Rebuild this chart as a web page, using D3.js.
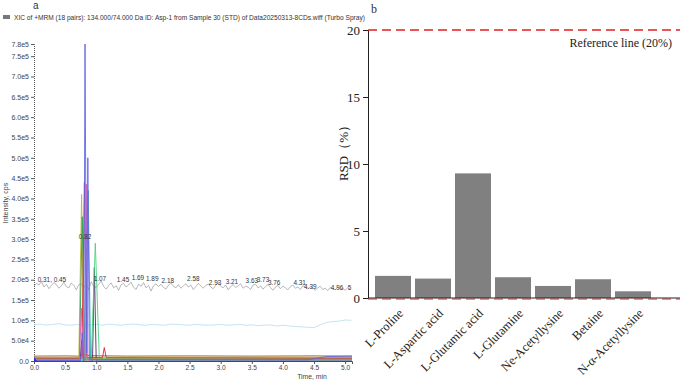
<!DOCTYPE html>
<html>
<head>
<meta charset="utf-8">
<script src="https://cdn.jsdelivr.net/npm/d3@7/dist/d3.min.js"></script>
<style>
  body { margin: 0; background: #fff; }
  svg { display: block; }
  .ax text { font-family: "Liberation Sans", Arial, sans-serif; font-size: 7px; fill: #444; }
  .rx text { font-family: "Liberation Serif", "Times New Roman", serif; font-size: 13px; fill: #222; }
</style>
</head>
<body>
<svg id="chart" width="682" height="380"></svg>
<script>
// ---- panel a: chromatogram (time in min, intensity in cps) ----
const titleText = 'XIC of +MRM (18 pairs): 134.000/74.000 Da ID: Asp-1 from Sample 30 (STD) of Data20250313-8CDs.wiff (Turbo Spray)';
const yTicksA = [0, 5e4, 1e5, 1.5e5, 2e5, 2.5e5, 3e5, 3.5e5, 4e5, 4.5e5, 5e5, 5.5e5, 6e5, 6.5e5, 7e5, 7.5e5, 7.8e5];
const xTicksA = [0, 0.5, 1, 1.5, 2, 2.5, 3, 3.5, 4, 4.5, 5];

// gray noisy trace, one value every 0.04 min, in 1e4 cps
const grayStep = 0.04;
const grayTrace = [
  18.4, 19.1, 18.7, 19.6, 18.2, 18.9, 17.8, 18.6, 19.3, 18.8,
  17.9, 18.5, 19.4, 18.3, 18.0, 19.2, 18.6, 17.5, 18.8, 19.0,
  18.2, 18.7, 17.6, 19.5, 18.4, 18.1, 18.9, 19.7, 18.3, 17.7,
  18.6, 19.2, 18.0, 18.5, 17.4, 18.8, 19.1, 18.2, 18.7, 19.4,
  18.1, 17.6, 18.9, 18.4, 19.3, 18.0, 18.6, 17.2, 18.5, 19.0,
  18.3, 18.9, 18.1, 17.7, 18.6, 19.2, 18.4, 18.0, 18.8, 17.9,
  18.5, 19.0, 18.2, 18.7, 17.6, 18.3, 19.1, 18.5, 17.9, 18.6,
  18.9, 18.2, 17.8, 18.6, 19.3, 18.4, 18.0, 18.7, 17.5, 18.3,
  18.8, 18.1, 18.5, 19.0, 17.9, 18.4, 18.2, 17.6, 18.7, 18.9,
  18.0, 18.5, 17.7, 18.3, 18.8, 18.1, 17.4, 18.2, 18.6, 17.8,
  18.4, 18.0, 17.5, 18.3, 18.7, 17.9, 18.2, 17.6, 18.5, 18.1,
  17.7, 18.3, 17.9, 17.4, 18.0, 18.4, 17.6, 17.9, 17.3, 18.1,
  17.8, 17.5, 18.2, 17.6, 17.9, 17.4, 18.0, 17.7
];
// light blue trace, one value every 0.1 min, in 1e4 cps
const lightBlueStep = 0.1;
const lightBlueTrace = [
  8.9, 9.1, 8.8, 9.0, 9.2, 8.9, 8.8, 9.0, 8.7, 8.9,
  9.0, 8.8, 9.1, 8.9, 8.8, 9.0, 9.1, 8.9, 8.8, 9.0,
  8.9, 8.8, 9.1, 9.0, 8.9, 8.8, 9.0, 8.9, 8.8, 8.9,
  9.0, 8.8, 8.9, 9.0, 8.8, 8.9, 8.7, 8.8, 8.9, 8.6,
  8.8, 8.6, 8.5, 8.4, 8.3, 8.2, 8.9, 9.5, 9.7, 9.8,
  10.1, 10.0
];

// baselines and peaks: [time, intensity]
const brownLine = [[0, 1.2e4], [0.5, 1.25e4], [0.72, 1.2e4], [0.8, 1.6e4], [0.9, 1.3e4], [1.5, 1.2e4], [2.5, 1.25e4], [3.5, 1.2e4], [4.5, 1.25e4], [5.11, 1.2e4]];
const orangeLine = [[0, 9e3], [0.72, 9e3], [0.76, 2e4], [0.8, 9e3], [2.0, 9.5e3], [3.0, 9e3], [4.0, 9.5e3], [5.11, 9e3]];
const olivePeak = [[0, 6e3], [0.72, 6e3], [0.765, 4.1e5], [0.8, 6e3], [3.0, 6.5e3], [5.11, 6e3]];
const greenPeak = [[0, 4e3], [0.73, 4e3], [0.775, 3.55e5], [0.82, 4e3], [5.11, 4e3]];
const redPeak = [[0, 7e3], [0.77, 7e3], [0.81, 4.4e5], [0.85, 8e3], [1.1, 8e3], [1.13, 3.3e4], [1.16, 8e3], [5.11, 7e3]];
const magentaPeak = [[0, 3e3], [0.73, 3e3], [0.76, 1.3e5], [0.79, 3e3], [0.82, 3e3], [0.84, 4.35e5], [0.865, 3e3], [5.11, 3e3]];
const bluePeak = [[0, 1e3], [0.75, 1e3], [0.775, 7e4], [0.8, 2e3], [0.82, 7.8e5], [0.845, 2e4], [0.865, 5.0e5], [0.89, 3e3], [4.4, 3e3], [4.7, 1.1e4], [5.11, 1.2e4]];
const tealPeak = [[0, 2e3], [0.83, 2e3], [0.87, 4.2e5], [0.91, 2e3], [5.11, 2e3]];
const lightGreenPeak = [[0, 5e3], [0.92, 5e3], [0.985, 2.9e5], [1.05, 5e3], [5.11, 5e3]];
const purplePeak = [[0, 0], [0.74, 0], [0.765, 5e4], [0.79, 0], [0.94, 0], [0.97, 2.3e5], [1.0, 0], [5.11, 0]];

// peak labels on the gray trace: 'at' is where the label sits (min)
const peakLabels = [
  { at: 0.06, text: '0.31, 0.45', v: 1.95e5, anchor: 'start' },
  { at: 0.82, text: '0.82', v: 3.0e5 },
  { at: 1.06, text: '1.07', v: 1.97e5 },
  { at: 1.43, text: '1.45', v: 1.95e5 },
  { at: 1.67, text: '1.69', v: 2.0e5 },
  { at: 1.90, text: '1.89', v: 1.97e5 },
  { at: 2.15, text: '2.18', v: 1.91e5 },
  { at: 2.56, text: '2.58', v: 1.96e5 },
  { at: 2.91, text: '2.93', v: 1.88e5 },
  { at: 3.18, text: '3.21', v: 1.89e5 },
  { at: 3.50, text: '3.63', v: 1.91e5 },
  { at: 3.68, text: '3.73', v: 1.95e5 },
  { at: 3.86, text: '3.76', v: 1.87e5 },
  { at: 4.27, text: '4.31', v: 1.88e5 },
  { at: 4.44, text: '4.39', v: 1.78e5 },
  { at: 4.87, text: '4.96', v: 1.74e5 },
  { at: 5.07, text: '5', v: 1.74e5 }
];

// ---- panel b: RSD bars ----
const compounds = ['L-Proline', 'L-Aspartic acid', 'L-Glutamic acid', 'L-Glutamine', 'Ne-Acetyllysine', 'Betaine', 'N-α-Acetyllysine'];
const rsdValues = [1.65, 1.45, 9.3, 1.55, 0.9, 1.4, 0.5];
const rsdTicks = [0, 5, 10, 15, 20];
const referenceLevel = 20;

const svg = d3.select('#chart');

/* PANEL A */
const xA = d3.scaleLinear().domain([0, 5.11]).range([34, 352]);
const yA = d3.scaleLinear().domain([0, 7.8e5]).range([361, 44]);

svg.append('text').attr('x', 33).attr('y', 9)
  .style('font-family', 'Liberation Sans, Arial, sans-serif').style('font-size', '10px').attr('fill', '#333')
  .text('a');
svg.append('rect').attr('x', 3).attr('y', 15).attr('width', 7).attr('height', 4).attr('fill', '#777');
svg.append('text').attr('x', 14).attr('y', 20)
  .style('font-family', 'Liberation Sans, Arial, sans-serif').style('font-size', '6.6px').attr('fill', '#333')
  .text(titleText);

const fmtA = v => v === 0 ? '0.0' : d3.format('.1e')(v).replace('+', '');
const yAxisA = svg.append('g').attr('class', 'ax').attr('transform', 'translate(34,0)')
  .call(d3.axisLeft(yA).tickValues(yTicksA).tickFormat(fmtA).tickSize(3).tickPadding(2));
yAxisA.select('.domain').attr('stroke', '#555').attr('stroke-dasharray', '1,1');
yAxisA.selectAll('.tick line').attr('stroke', '#555');

const xAxisA = svg.append('g').attr('class', 'ax').attr('transform', 'translate(0,361)')
  .call(d3.axisBottom(xA).tickValues(xTicksA).tickFormat(d3.format('.1f')).tickSize(3).tickPadding(1));
xAxisA.select('.domain').attr('stroke', '#555');
xAxisA.selectAll('.tick line').attr('stroke', '#555');
xAxisA.selectAll('.tick text').style('font-size', '6.6px');

svg.append('text').attr('transform', 'translate(8,203) rotate(-90)').attr('text-anchor', 'middle')
  .style('font-family', 'Liberation Sans, Arial, sans-serif').style('font-size', '7px').attr('fill', '#444')
  .text('Intensity, cps');
svg.append('text').attr('x', 312).attr('y', 378.5).attr('text-anchor', 'middle')
  .style('font-family', 'Liberation Sans, Arial, sans-serif').style('font-size', '6.8px').attr('fill', '#444')
  .text('Time, min');

const lineA = d3.line().x(d => xA(d[0])).y(d => yA(d[1]));
const plotA = svg.append('g');

plotA.append('path')
  .datum(lightBlueTrace.map((v, i) => [i * lightBlueStep, v * 1e4]))
  .attr('d', lineA).attr('fill', 'none').attr('stroke', '#c0dff0').attr('stroke-width', 0.9);
plotA.append('path')
  .datum(grayTrace.map((v, i) => [i * grayStep, v * 1e4]))
  .attr('d', lineA).attr('fill', 'none').attr('stroke', '#999').attr('stroke-width', 0.7);

const traces = [
  { data: brownLine, color: '#8b5a2b' },
  { data: orangeLine, color: '#e0a030' },
  { data: purplePeak, color: '#4a2a6a' },
  { data: olivePeak, color: '#b8b840' },
  { data: greenPeak, color: '#2f9e58' },
  { data: lightGreenPeak, color: '#4fd080' },
  { data: tealPeak, color: '#28b0a0' },
  { data: redPeak, color: '#d8203c' },
  { data: magentaPeak, color: '#e060b0' },
  { data: bluePeak, color: '#6464e4' }
];
plotA.selectAll('path.trace').data(traces).enter().append('path').attr('class', 'trace')
  .attr('d', d => lineA(d.data)).attr('fill', 'none')
  .attr('stroke', d => d.color).attr('stroke-width', 0.9);

svg.append('path').attr('d', `M${xA(0)},${yA(0) - 4}l3,4l-3,0z`).attr('fill', '#2233cc');

plotA.selectAll('text.plabel').data(peakLabels).enter().append('text').attr('class', 'plabel')
  .attr('x', d => xA(d.at)).attr('y', d => yA(d.v))
  .attr('text-anchor', d => d.anchor || 'middle')
  .style('font-family', 'Liberation Sans, Arial, sans-serif').style('font-size', '6.4px').attr('fill', '#333')
  .text(d => d.text);

/* PANEL B */
const xB = d3.scaleBand().domain(compounds).range([373, 653]).paddingInner(0.1).paddingOuter(0.05);
const yB = d3.scaleLinear().domain([0, 20]).range([298, 30]);

svg.append('text').attr('x', 371).attr('y', 13)
  .style('font-family', 'Liberation Serif, Times New Roman, serif').style('font-size', '12px').attr('fill', '#333')
  .text('b');

svg.selectAll('rect.bar').data(rsdValues).enter().append('rect').attr('class', 'bar')
  .attr('x', (d, i) => xB(compounds[i])).attr('width', xB.bandwidth())
  .attr('y', d => yB(d)).attr('height', d => yB(0) - yB(d))
  .attr('fill', '#808080');

const yAxisB = svg.append('g').attr('class', 'rx').attr('transform', 'translate(368,0)')
  .call(d3.axisLeft(yB).tickValues(rsdTicks).tickSize(5).tickPadding(3));
yAxisB.select('.domain').attr('stroke', '#222');
yAxisB.selectAll('.tick line').attr('stroke', '#222');

svg.append('line').attr('x1', 368).attr('x2', 680).attr('y1', yB(0)).attr('y2', yB(0))
  .attr('stroke', '#222').attr('stroke-width', 1);
svg.append('line').attr('x1', 368).attr('x2', 680).attr('y1', yB(0) + 1).attr('y2', yB(0) + 1)
  .attr('stroke', '#a03030').attr('stroke-width', 1).attr('stroke-dasharray', '9,5');
svg.append('line').attr('x1', 368).attr('x2', 680).attr('y1', yB(referenceLevel)).attr('y2', yB(referenceLevel))
  .attr('stroke', '#e02020').attr('stroke-width', 1.5).attr('stroke-dasharray', '9,5');
svg.append('text').attr('x', 672).attr('y', 47).attr('text-anchor', 'end')
  .style('font-family', 'Liberation Serif, Times New Roman, serif').style('font-size', '12px').attr('fill', '#222')
  .text('Reference line (20%)');

svg.append('text').attr('transform', 'translate(348,150) rotate(-90)').attr('text-anchor', 'middle')
  .style('font-family', 'Liberation Serif, Times New Roman, serif').style('font-size', '13px').attr('fill', '#222')
  .text('RSD（%）');

svg.selectAll('text.cat').data(compounds).enter().append('text').attr('class', 'cat')
  .attr('transform', d => `translate(${xB(d) + xB.bandwidth() / 2 + 11},${yB(0) + 16}) rotate(-45)`)
  .attr('text-anchor', 'end')
  .style('font-family', 'Liberation Serif, Times New Roman, serif').style('font-size', '12.5px').attr('fill', '#222')
  .text(d => d);
</script>
</body>
</html>
